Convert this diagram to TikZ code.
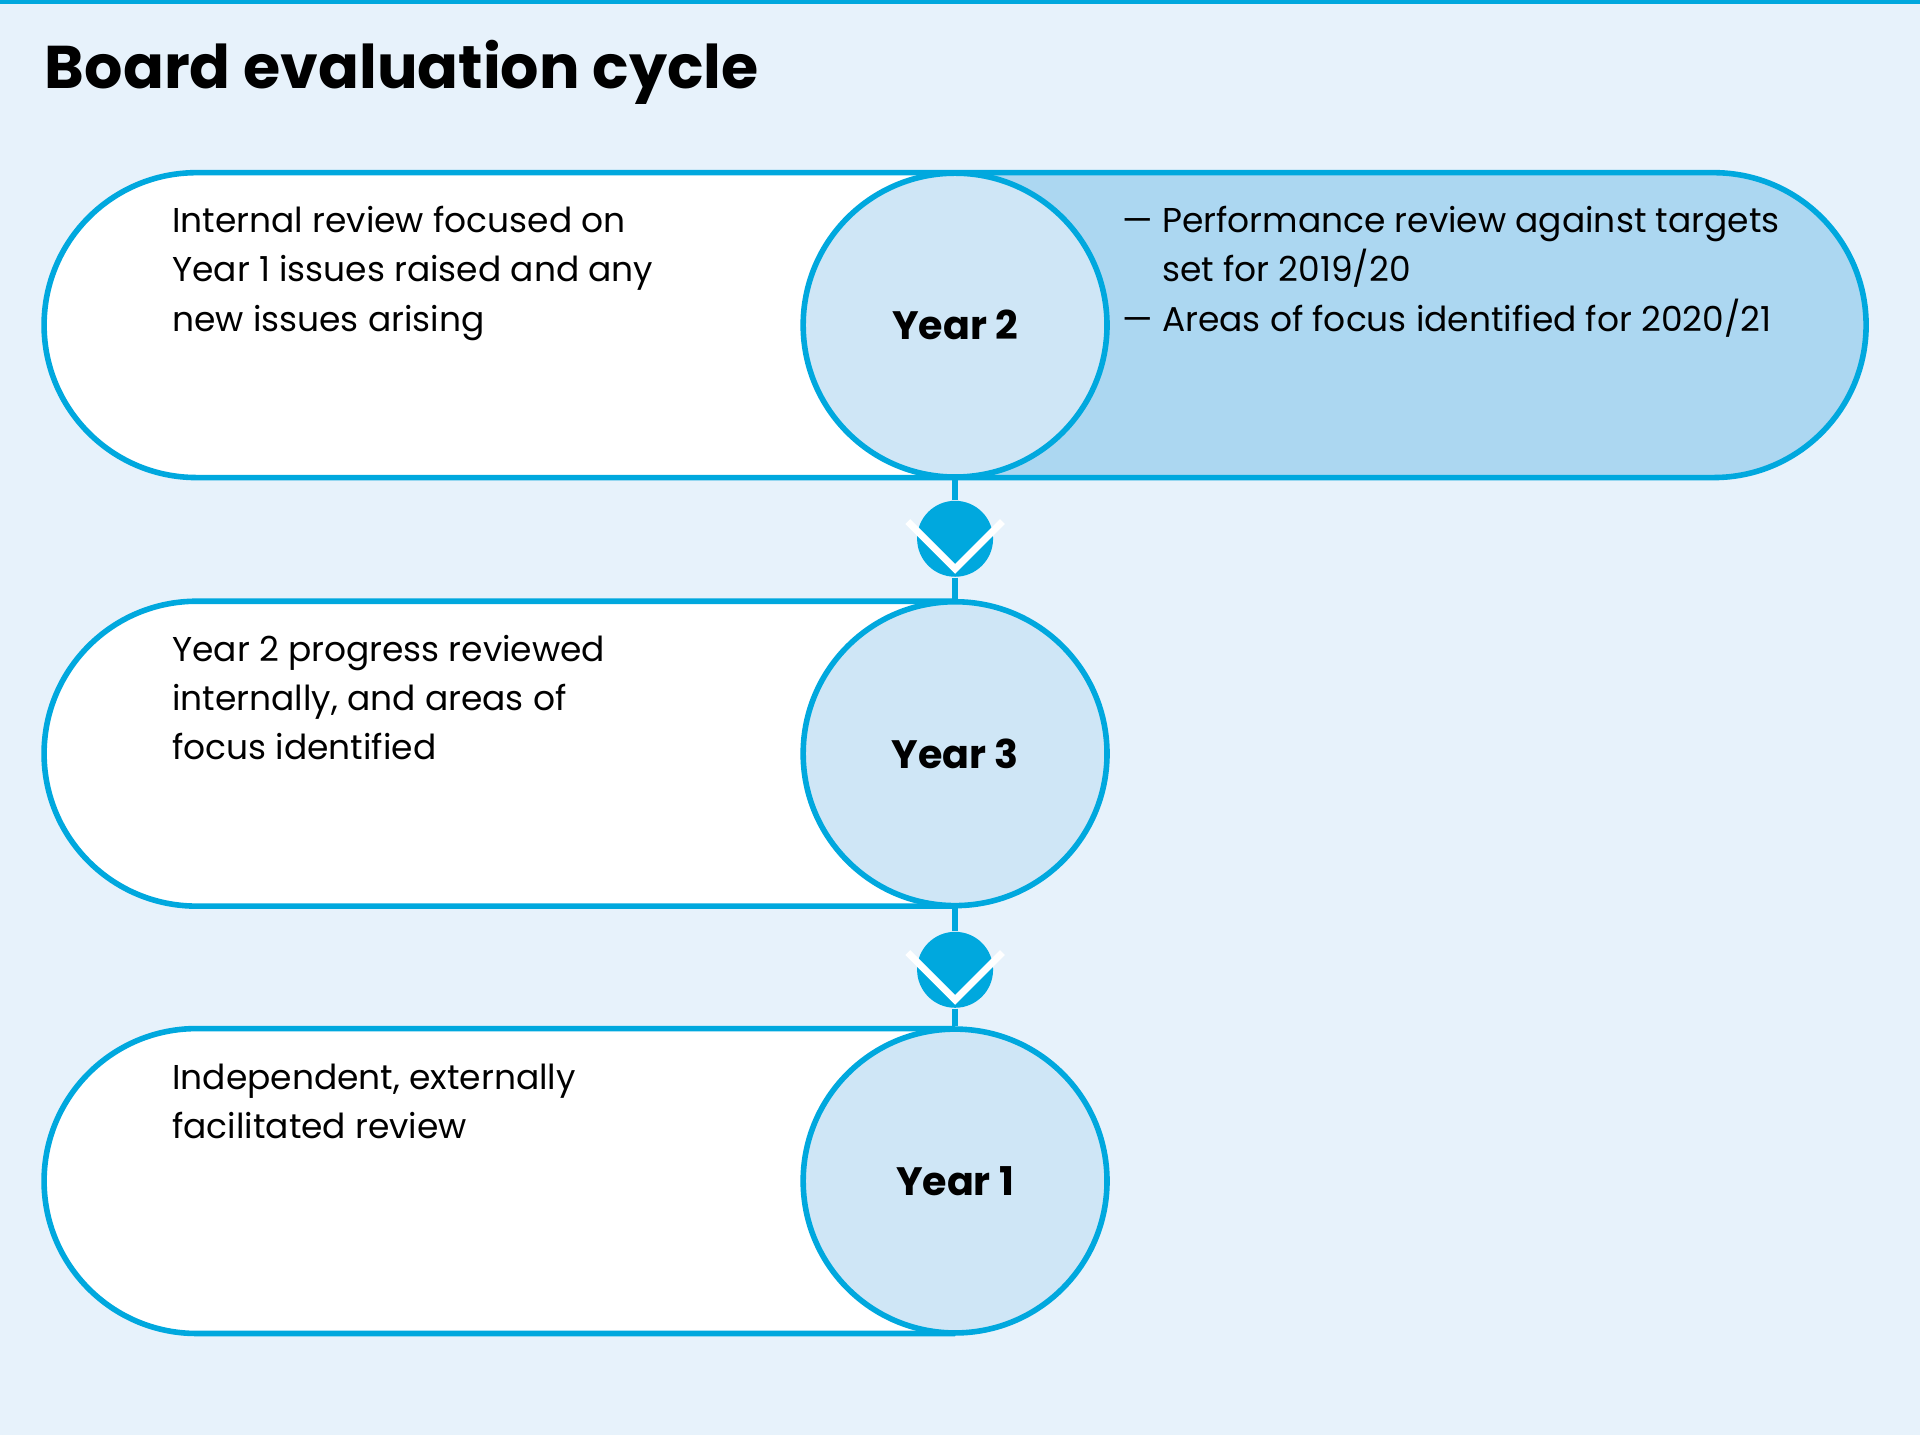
\documentclass[tikz,border=0pt]{standalone}
\usepackage{fontspec}
\setmainfont{Poppins}
\usetikzlibrary{positioning}
\definecolor{bgblue}{HTML}{E7F2FB}
\definecolor{cyanline}{HTML}{00A8DE}
\definecolor{yearfill}{HTML}{CFE6F6}
\definecolor{darkfill}{HTML}{ACD7F1}
\tikzset{
  year/.style={circle, minimum size=2.48cm, draw=cyanline, line width=1.3pt, fill=yearfill, font=\fontsize{9.2}{11}\selectfont\bfseries},
  stepdot/.style={circle, minimum size=0.62cm, fill=cyanline, inner sep=0pt},
  desc/.style={anchor=north west, align=left, inner sep=0pt, font=\fontsize{8}{11.4}\selectfont},
  pill/.style={draw=cyanline, line width=1.3pt},
  link/.style={cyanline, line width=1.3pt}
}
\begin{document}
\begin{tikzpicture}[x=0.01cm, y=0.01cm]
\fill[bgblue] (0,0) rectangle (1568,-1172);
\useasboundingbox (0,0) rectangle (1568,-1172);
\fill[cyanline] (0,0) rectangle (1568,-3);
\node (title) [anchor=base west, inner sep=0pt, font=\fontsize{14}{16}\selectfont\bfseries] at (36,-72) {Board evaluation cycle};

% year 2 row
\fill[darkfill] (780,-141) -- (1399.5,-141) arc (90:-90:124.5) -- (780,-390) -- cycle;
\fill[white] (780,-141) -- (160.5,-141) arc (90:270:124.5) -- (780,-390) -- cycle;
\draw[pill] (160.5,-141) -- (1399.5,-141) arc (90:-90:124.5) -- (160.5,-390) arc (270:90:124.5);
% year 3 row
\filldraw[pill, fill=white] (780,-491) -- (160.5,-491) arc (90:270:124.5) -- (780,-740);
% year 1 row
\filldraw[pill, fill=white] (780,-840) -- (160.5,-840) arc (90:270:124.5) -- (780,-1089);

\node (y2) [year] at (780,-265.5) {Year 2};
\node (y3) [year] at (780,-615.5) {Year 3};
\node (y1) [year] at (780,-964.5) {Year 1};

\node (c1) [stepdot] at (780,-440) {};
\node (c2) [stepdot] at (780,-792) {};
\draw [link] (y2) -- (c1) -- (y3);
\draw [link] (y3) -- (c2) -- (y1);
\foreach \c in {c1,c2}
  \draw[white, line width=1.6pt] ([xshift=-11,yshift=4]\c.center) -- ([yshift=-7]\c.center) -- ([xshift=11,yshift=4]\c.center);

\node (t2) [desc] at (140,-168) {Internal review focused on\\Year 1 issues raised and any\\new issues arising};
\node (t3) [desc] at (140,-518) {Year 2 progress reviewed\\internally, and areas of\\focus identified};
\node (t1) [desc] at (140,-868) {Independent, externally\\facilitated review};
\node (r2) [desc] at (916,-168) {— Performance review against targets\\\hphantom{— }set for 2019/20\\— Areas of focus identified for 2020/21};
\end{tikzpicture}
\end{document}
